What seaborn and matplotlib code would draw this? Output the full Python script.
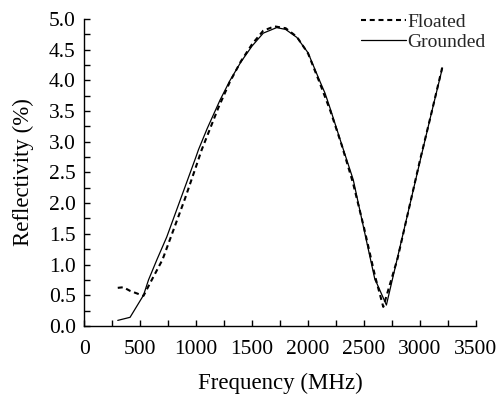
import matplotlib
matplotlib.use("Agg")
import matplotlib.pyplot as plt
import seaborn as sns
import pandas as pd
from matplotlib.ticker import MultipleLocator

sns.set_theme(style="white")
plt.rcParams['font.family'] = ['Liberation Serif', 'DejaVu Serif']
plt.rcParams['mathtext.fontset'] = 'stix'

freq_grounded = [300, 410, 530, 575, 650, 738, 800, 900, 1000, 1021, 1100, 1214, 1300, 1400,
                 1500, 1600, 1720, 1800, 1900, 2000, 2107, 2152, 2200, 2300, 2404, 2500,
                 2598, 2613, 2700, 2800, 2900, 3000, 3100, 3200]
refl_grounded = [0.09, 0.14, 0.50, 0.75, 1.08, 1.45, 1.76, 2.26, 2.76, 2.87, 3.22, 3.68, 3.99, 4.30,
                 4.56, 4.77, 4.86, 4.83, 4.70, 4.45, 3.98, 3.79, 3.53, 2.96, 2.38, 1.57,
                 0.75, 0.70, 0.34, 1.12, 1.90, 2.68, 3.45, 4.20]

freq_floated = [300, 350, 411, 470, 530, 604, 700, 797, 900, 1000, 1050, 1100, 1200, 1300, 1400,
                1500, 1600, 1700, 1800, 1900, 2000, 2100, 2200, 2300, 2400, 2500, 2600,
                2672, 2800, 2900, 3000, 3100, 3200]
refl_floated = [0.62, 0.63, 0.57, 0.53, 0.49, 0.75, 1.08, 1.56, 2.07, 2.60, 2.87, 3.10, 3.56, 3.97, 4.31,
                4.59, 4.81, 4.88, 4.85, 4.71, 4.44, 3.98, 3.50, 2.95, 2.34, 1.60, 0.80,
                0.31, 1.10, 1.90, 2.70, 3.45, 4.22]

df_f = pd.DataFrame({"Frequency": freq_floated, "Reflectivity": refl_floated})
df_g = pd.DataFrame({"Frequency": freq_grounded, "Reflectivity": refl_grounded})

fig = plt.figure(figsize=(5.01, 3.96), dpi=100)
ax = fig.add_axes([0.168, 0.177, 0.782, 0.775])

sns.lineplot(data=df_f, x="Frequency", y="Reflectivity", ax=ax, color="black",
             linewidth=1.5, dashes=False, linestyle=(0, (2.4, 1.8)), label="Floated",
             estimator=None, sort=False)
sns.lineplot(data=df_g, x="Frequency", y="Reflectivity", ax=ax, color="black",
             linewidth=0.9, label="Grounded", estimator=None, sort=False)

ax.set_xlim(0, 3500)
ax.set_ylim(0, 5.0)
ax.xaxis.set_major_locator(MultipleLocator(500))
ax.xaxis.set_minor_locator(MultipleLocator(250))
ax.yaxis.set_major_locator(MultipleLocator(0.5))
ax.yaxis.set_minor_locator(MultipleLocator(0.25))
ax.yaxis.set_major_formatter(matplotlib.ticker.FormatStrFormatter('%.1f'))

for s in ["top", "right"]:
    ax.spines[s].set_visible(False)
for s in ["left", "bottom"]:
    ax.spines[s].set_color("black")
    ax.spines[s].set_linewidth(1.0)

ax.tick_params(which="both", direction="in", length=4, width=1.0, color="black",
               labelsize=15.5, labelcolor="black", bottom=True, left=True)
ax.tick_params(axis="y", which="both", pad=6)
ax.tick_params(axis="x", which="both", pad=10)

ax.set_xlabel("Frequency (MHz)", fontsize=16.5, color="black", labelpad=10)
ax.set_ylabel("Reflectivity (%)", fontsize=16.5, color="black", labelpad=11)

leg = ax.legend(loc="upper right", frameon=False, fontsize=14, handlelength=2.3,
                handletextpad=0.1, borderaxespad=0.0, labelspacing=0.15,
                bbox_to_anchor=(1.045, 1.045))

fig.savefig("out.png", dpi=100)
